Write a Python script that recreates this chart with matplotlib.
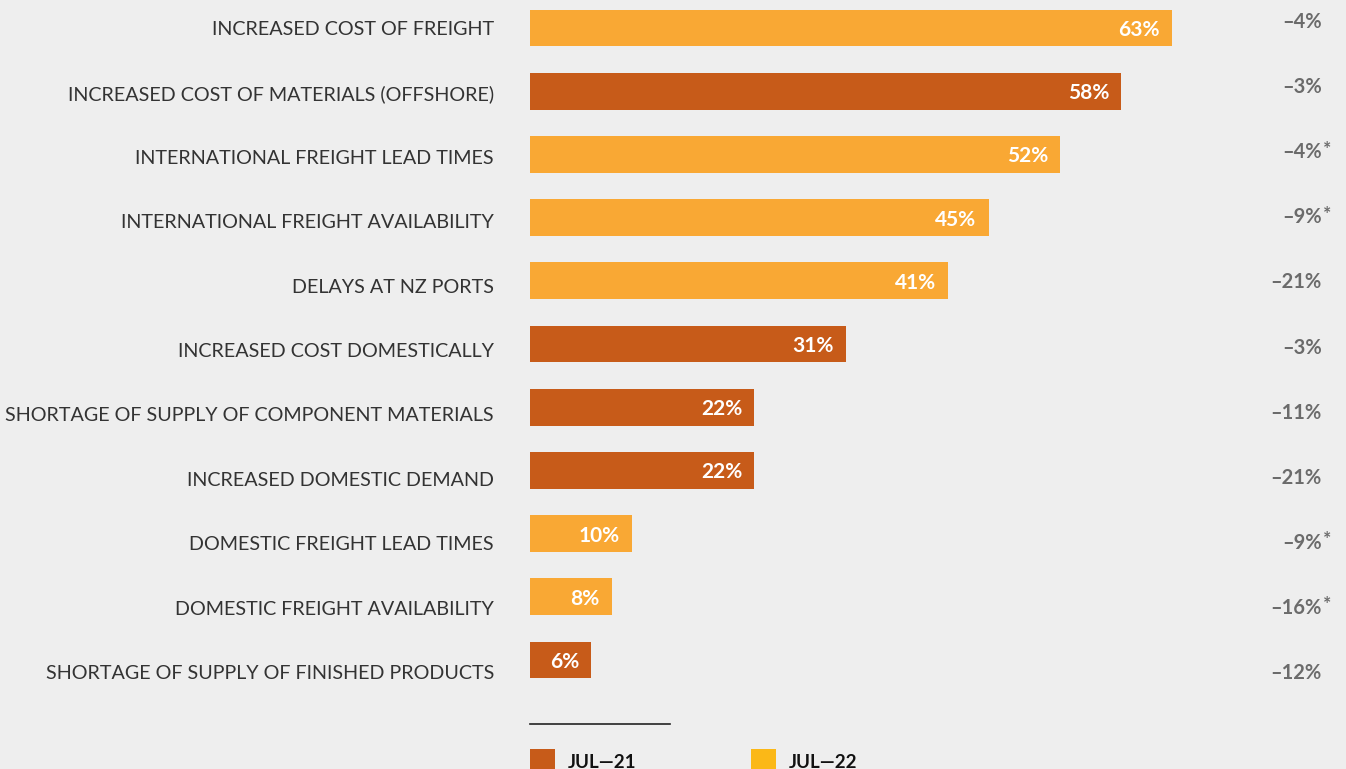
import matplotlib
matplotlib.use("Agg")
import matplotlib.pyplot as plt
from matplotlib.patches import Rectangle
from matplotlib.lines import Line2D
import matplotlib.transforms as mtransforms

# Supply chain issues: share of respondents, with change shown at right
categories = [
    "INCREASED COST OF FREIGHT",
    "INCREASED COST OF MATERIALS (OFFSHORE)",
    "INTERNATIONAL FREIGHT LEAD TIMES",
    "INTERNATIONAL FREIGHT AVAILABILITY",
    "DELAYS AT NZ PORTS",
    "INCREASED COST DOMESTICALLY",
    "SHORTAGE OF SUPPLY OF COMPONENT MATERIALS",
    "INCREASED DOMESTIC DEMAND",
    "DOMESTIC FREIGHT LEAD TIMES",
    "DOMESTIC FREIGHT AVAILABILITY",
    "SHORTAGE OF SUPPLY OF FINISHED PRODUCTS",
]
values = [63, 58, 52, 45, 41, 31, 22, 22, 10, 8, 6]
series = ["JUL—22", "JUL—21", "JUL—22", "JUL—22", "JUL—22", "JUL—21",
          "JUL—21", "JUL—21", "JUL—22", "JUL—22", "JUL—21"]
changes = ["–4%", "–3%", "–4%", "–9%", "–21%", "–3%", "–11%", "–21%",
           "–9%", "–16%", "–12%"]
flagged = [False, False, True, True, False, False, False, False, True, True, False]

legend_labels = ["JUL—21", "JUL—22"]
bar_colors = {"JUL—21": "#C75B19", "JUL—22": "#F9A834"}
legend_colors = ["#C75B19", "#FBB817"]

BG = "#EEEEEE"
W, H = 1346, 769
fig = plt.figure(figsize=(W / 100, H / 100), dpi=100, facecolor=BG)

px_per_unit = 10.19
x0 = 530
ax = fig.add_axes([x0 / W, 0, 1 - x0 / W, 1])
ax.set_facecolor(BG)
ax.set_xlim(0, (W - x0) / px_per_unit)
step = 63.2
top = 28
ax.set_ylim((H - top) / step, -top / step)
ax.axis("off")

ypos = list(range(len(categories)))
ax.barh(ypos, values, height=0.585, color=[bar_colors[s] for s in series],
        edgecolor="none")

font = "Lato"
for y, v in zip(ypos, values):
    off = mtransforms.offset_copy(ax.transData, fig=fig, x=-12 * 0.72, y=-2 * 0.72,
                                  units="points")
    ax.text(v, y, f"{v}%", transform=off, ha="right", va="center",
            color="white", fontsize=15, fontweight="bold", family=font)


def fy(p):
    return 1 - p / H


# Category labels and change column sit on slightly wider rows than the bars
for i, cat in enumerate(categories):
    fig.text(494 / W, fy(29.5 + 64.4 * i), cat, ha="right", va="center",
             color="#333333", fontsize=14.2, family=font)

for i, (c, f) in enumerate(zip(changes, flagged)):
    yy = fy(22 + 65.1 * i)
    fig.text(1322 / W, yy, c, ha="right", va="center",
             color="#6B6B6B", fontsize=14.5, fontweight="bold", family=font)
    if f:
        fig.text(1322.5 / W, yy + 3 / H, "*", ha="left", va="center",
                 color="#6B6B6B", fontsize=14, fontweight="bold", family=font)

# Legend: rule above two coloured swatches
fig.add_artist(Line2D([530 / W, 670 / W], [fy(724), fy(724)],
                      color="#222222", linewidth=1.2))
for i, (lab, col) in enumerate(zip(legend_labels, legend_colors)):
    sx = 530 + i * 221
    fig.add_artist(Rectangle((sx / W, fy(774)), 25 / W, 25 / H,
                             transform=fig.transFigure, facecolor=col,
                             edgecolor="none"))
    fig.text((sx + 38) / W, fy(763), lab, ha="left", va="center",
             color="#111111", fontsize=13.5, fontweight="bold", family=font)

fig.savefig("out.png", dpi=100, facecolor=BG)
